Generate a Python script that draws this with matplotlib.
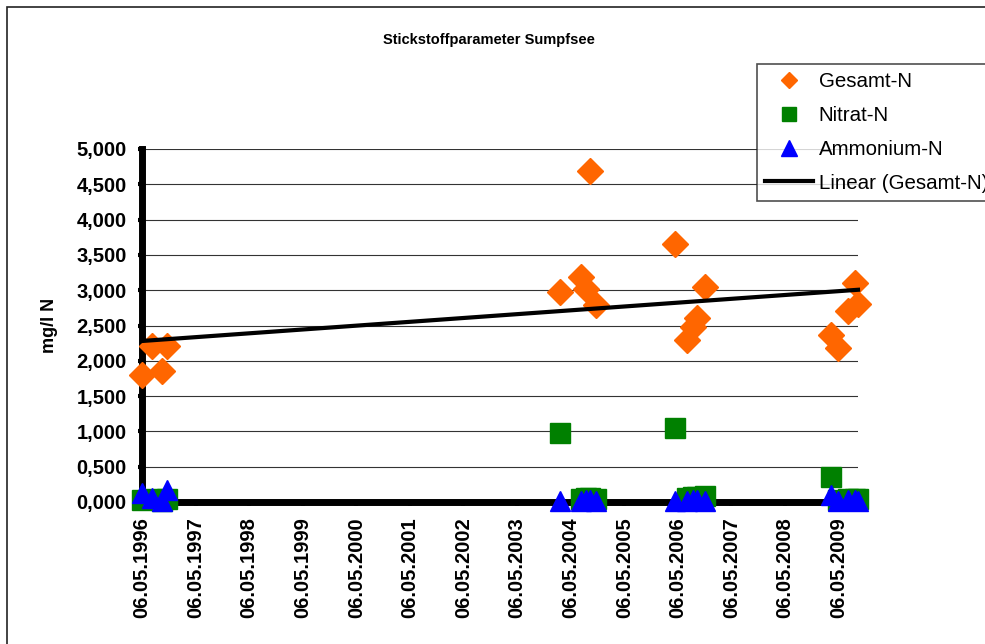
import datetime as dt
import numpy as np
import matplotlib
matplotlib.use("Agg")
import matplotlib.pyplot as plt
import matplotlib.dates as mdates
from matplotlib.lines import Line2D
from matplotlib.patches import Rectangle

plt.rcParams['font.family'] = ['Liberation Sans', 'DejaVu Sans']

# sampling dates (same for all three parameters)
dates = [
    "1996-05-06", "1996-07-14", "1996-09-20", "1996-10-20",
    "2004-02-20", "2004-07-12", "2004-08-20", "2004-09-16", "2004-10-22",
    "2006-04-20", "2006-07-10", "2006-08-18", "2006-09-17", "2006-11-08",
    "2009-03-18", "2009-05-01", "2009-07-08", "2009-08-25", "2009-09-15",
]
gesamt_n = [1.80, 2.21, 1.85, 2.21,
            2.97, 3.19, 3.02, 4.69, 2.79,
            3.65, 2.30, 2.48, 2.60, 3.05,
            2.37, 2.18, 2.70, 3.10, 2.81]
nitrat_n = [0.03, 0.04, 0.02, 0.04,
            0.98, 0.04, 0.05, 0.05, 0.04,
            1.05, 0.06, 0.07, 0.07, 0.08,
            0.35, 0.03, 0.04, 0.04, 0.04]
ammonium_n = [0.13, 0.06, 0.02, 0.17,
              0.01, 0.02, 0.03, 0.03, 0.02,
              0.01, 0.02, 0.03, 0.03, 0.02,
              0.10, 0.02, 0.03, 0.03, 0.02]

t = [dt.datetime.strptime(d, "%Y-%m-%d") for d in dates]
tn = mdates.date2num(t)

fig = plt.figure(figsize=(9.85, 6.44), dpi=100)
ax = fig.add_axes([142/985, 1-502/644, (858-142)/985, (502-149)/644])

# chart area frame
fig.patches.append(Rectangle((7/985, -0.2), 2.0, 1.2 - 7/644, transform=fig.transFigure,
                             fill=False, ec='#222222', lw=1.2))

ax.plot(t, gesamt_n, ls='none', marker='D', ms=13, color='#FF6600', mec='#FF6600',
        clip_on=False, zorder=3)
ax.plot(t, nitrat_n, ls='none', marker='s', ms=15, color='#008000', mec='#008000',
        clip_on=False, zorder=4)
ax.plot(t, ammonium_n, ls='none', marker='^', ms=14, color='#0000FF', mec='#0000FF',
        clip_on=False, zorder=5)

# linear trend of Gesamt-N
k, d0 = np.polyfit(tn, gesamt_n, 1)
xs = np.array([tn[0], tn[-1]])
ax.plot(mdates.num2date(xs), k*xs + d0, color='black', lw=3, zorder=6, clip_on=False)

ax.set_ylim(0, 5)
ax.set_yticks(np.arange(0, 5.01, 0.5))
ax.set_yticklabels([f"{v:.3f}".replace('.', ',') for v in np.arange(0, 5.01, 0.5)],
                   fontweight='bold', fontsize=14.5)
ax.set_xlim(t[0], t[-1])
ax.xaxis.set_major_locator(mdates.YearLocator(1, month=5, day=6))
ax.xaxis.set_major_formatter(mdates.DateFormatter('%d.%m.%Y'))
for lab in ax.get_xticklabels():
    lab.set_fontweight('bold')
    lab.set_fontsize(14.5)
    lab.set_rotation(90)

ax.grid(axis='y', color='#333333', lw=0.8, zorder=0)
ax.set_axisbelow(True)
for s in ['top', 'right']:
    ax.spines[s].set_visible(False)
for s in ['left', 'bottom']:
    ax.spines[s].set_linewidth(5)
    ax.spines[s].set_zorder(2)
ax.tick_params(axis='both', direction='out', length=3, width=3, color='black')
ax.tick_params(axis='y', pad=8)
ax.tick_params(axis='x', pad=8)

fig.text(489/985, 1-40/644, 'Stickstoffparameter Sumpfsee', ha='center', va='center',
         fontsize=10.5, fontweight='bold')
fig.text(50/985, 1-325/644, 'mg/l N', rotation=90, ha='center', va='center',
         fontsize=13, fontweight='bold')

handles = [
    Line2D([], [], ls='none', marker='D', ms=8, color='#FF6600'),
    Line2D([], [], ls='none', marker='s', ms=10.5, color='#008000'),
    Line2D([], [], ls='none', marker='^', ms=11, color='#0000FF'),
    Line2D([], [], color='black', lw=3),
]
labels = ['Gesamt-N', 'Nitrat-N', 'Ammonium-N', 'Linear (Gesamt-N)']
leg = fig.legend(handles, labels, loc='upper left', bbox_to_anchor=(757/985, 1-64/644),
                 fontsize=14.8, frameon=True, fancybox=False, edgecolor='#222222',
                 handlelength=2.3, handletextpad=0.3, labelspacing=0.72,
                 borderpad=0.4, borderaxespad=0)
leg.get_frame().set_linewidth(1.2)

fig.savefig('out.png', dpi=100)
